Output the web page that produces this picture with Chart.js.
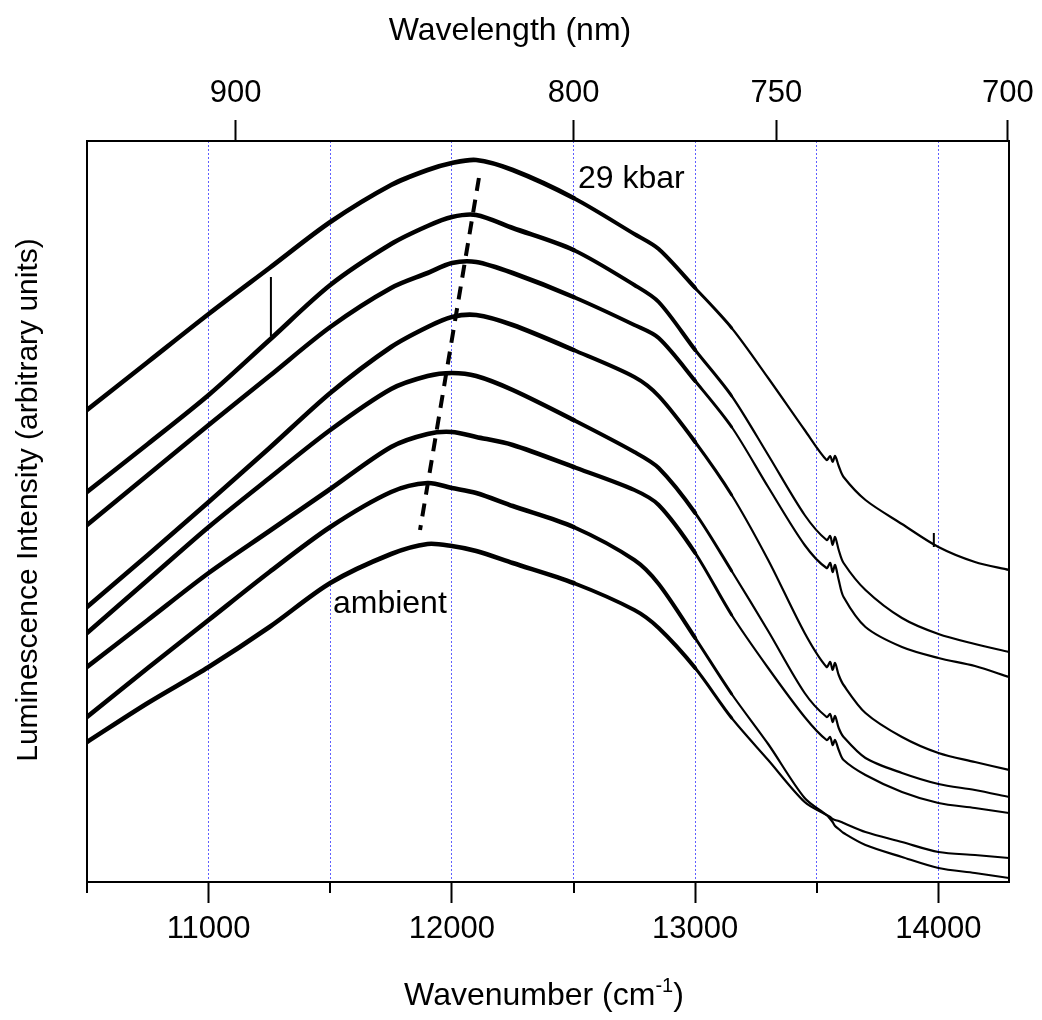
<!DOCTYPE html>
<html>
<head>
<meta charset="utf-8">
<title>Luminescence spectra under pressure</title>
<script src="https://cdn.jsdelivr.net/npm/chart.js"></script>
<style>
  body { margin: 0; background: #fff; }
  canvas { display: block; }
</style>
</head>
<body>
<canvas id="chart" width="1042" height="1020"></canvas>
<script>
'use strict'

// wavenumber sample points (cm-1), shared by every spectrum
const wavenumber = [10500, 10750, 11000, 11250, 11500, 11750, 11900, 12000, 12100, 12250, 12500, 12750,
    12850, 13000, 13150, 13300, 13450, 13540, 13555, 13565, 13575, 13590, 13610, 13700, 13850, 14000,
    14150, 14290]

// intensities (arbitrary units), top spectrum = 29 kbar, bottom = ambient
const spectrum1 = [472, 520, 568, 614, 660, 697, 712, 719, 722, 712, 684, 648, 633, 594, 554, 504, 452, 422,
    426, 420, 426, 416, 405, 382, 358, 335, 320, 312]
const spectrum2 = [390, 438, 487, 542, 597, 638, 656, 665, 667, 654, 632, 597, 580, 532, 486, 427, 367, 342,
    346, 337, 345, 332, 319, 292, 264, 248, 238, 230]
const spectrum3 = [357, 407, 457, 506, 555, 594, 609, 619, 620, 609, 585, 557, 544, 501, 455, 395, 337, 314,
    319, 310, 317, 302, 285, 255, 235, 224, 216, 205]
const spectrum4 = [275, 327, 380, 434, 489, 535, 555, 565, 567, 557, 532, 505, 486, 440, 387, 322, 249, 215,
    220, 212, 219, 207, 197, 169, 145, 129, 120, 112]
const spectrum5 = [249, 302, 355, 404, 452, 493, 506, 509, 506, 492, 462, 430, 414, 369, 311, 251, 189, 165,
    168, 160, 166, 154, 145, 124, 109, 98, 92, 85]
const spectrum6 = [215, 262, 309, 351, 393, 435, 448, 450, 445, 437, 415, 392, 377, 329, 267, 214, 165, 142,
    145, 137, 142, 132, 122, 107, 90, 79, 74, 69]
const spectrum7 = [165, 214, 262, 310, 355, 390, 399, 394, 389, 376, 355, 322, 298, 244, 188, 138, 84, 67,
    63, 60, 56, 53, 49, 37, 25, 14, 9, 4]
const ambient = [140, 179, 215, 255, 299, 328, 338, 336, 331, 319, 299, 272, 254, 214, 164, 122, 80, 67,
    65, 63, 62, 61, 59, 50, 40, 30, 27, 24]

// single-channel spikes (spectrum 2 at 11256, spectrum 1 at 13981)
const spikeWavenumber = [11256, 13981]
const spikeBase = [546, 335]
const spikeTop = [605, 349]

// dashed guide through the band maxima
const peakWavenumber = [12111, 11869]
const peakIntensity = [704, 352]

// axis ticks
const wavelengthTicks = [900, 800, 750, 700]      // nm, top axis
const bottomTicks = [10500, 11000, 11500, 12000, 12500, 13000, 13500, 14000]
const minorTicks = [10500, 11500, 12500, 13500]   // the short ones

const FONT = '"Liberation Sans", Arial, Helvetica, sans-serif'
const GRID = 'rgb(95, 95, 255)'
const NONE = 'rgba(0,0,0,0)'

const spectra = [spectrum1, spectrum2, spectrum3, spectrum4, spectrum5, spectrum6, spectrum7, ambient]

function toPoints(xs, ys) {
    return xs.map((x, i) => ({ x: x, y: ys[i] }))
}

// the noisy low-energy side of each spectrum reads as a heavier line
function noiseWidth(ctx) {
    let x = ctx.p0.parsed.x
    if (x < 12500) return 4.6
    if (x < 12900) return 4
    if (x < 13100) return 3
    return 2.2
}

let datasets = spectra.map(values => ({
    data: toPoints(wavenumber, values),
    borderColor: '#000',
    borderWidth: 2,
    borderJoinStyle: 'round',
    borderCapStyle: 'round',
    pointRadius: 0,
    tension: 0.3,
    segment: { borderWidth: noiseWidth }
}))

spikeWavenumber.forEach((x, i) => {
    datasets.push({
        data: [{ x: x, y: spikeBase[i] }, { x: x, y: spikeTop[i] }],
        borderColor: '#000',
        borderWidth: 2,
        pointRadius: 0
    })
})

datasets.push({
    data: toPoints(peakWavenumber, peakIntensity),
    borderColor: '#000',
    borderWidth: 4,
    borderDash: [13, 9],
    pointRadius: 0
})

// short ticks, texts and titles
const extras = {
    id: 'extras',
    afterDraw(chart) {
        const ctx = chart.ctx
        const x = chart.scales.x
        const y = chart.scales.y
        const area = chart.chartArea
        ctx.save()

        ctx.strokeStyle = '#000'
        ctx.lineWidth = 2
        minorTicks.forEach(v => {
            let px = Math.round(x.getPixelForValue(v))
            ctx.beginPath()
            ctx.moveTo(px, area.bottom)
            ctx.lineTo(px, area.bottom + 11)
            ctx.stroke()
        })

        ctx.fillStyle = '#000'
        ctx.textAlign = 'left'
        ctx.textBaseline = 'alphabetic'
        ctx.font = '32px ' + FONT
        ctx.fillText('29 kbar', x.getPixelForValue(12518), y.getPixelForValue(694))
        ctx.fillText('ambient', x.getPixelForValue(11511), y.getPixelForValue(269))

        // top title
        ctx.font = '32px ' + FONT
        ctx.textAlign = 'center'
        ctx.fillText('Wavelength (nm)', 510, 40)

        // bottom title with superscript
        ctx.textAlign = 'left'
        let a = 'Wavenumber (cm', sup = '-1', b = ')'
        ctx.font = '32px ' + FONT
        let wa = ctx.measureText(a).width
        let wb = ctx.measureText(b).width
        ctx.font = '20px ' + FONT
        let ws = ctx.measureText(sup).width
        let left = 544 - (wa + ws + wb) / 2
        ctx.font = '32px ' + FONT
        ctx.fillText(a, left, 1005)
        ctx.fillText(b, left + wa + ws, 1005)
        ctx.font = '20px ' + FONT
        ctx.fillText(sup, left + wa, 992)

        // left title
        ctx.translate(37, 500)
        ctx.rotate(-Math.PI / 2)
        ctx.textAlign = 'center'
        ctx.font = '30px ' + FONT
        ctx.fillText('Luminescence Intensity (arbitrary units)', 0, 0)

        ctx.restore()
    }
}

const chart = new Chart(document.querySelector('#chart').getContext('2d'), {
    type: 'line',
    data: { datasets: datasets },
    plugins: [extras],
    options: {
        responsive: false,
        animation: false,
        devicePixelRatio: 1,
        layout: { padding: 0 },
        plugins: { legend: { display: false }, tooltip: { enabled: false } },
        scales: {
            x: {
                type: 'linear',
                position: 'bottom',
                min: 10500,
                max: 14290,
                afterFit: scale => { scale.height = 138 },
                afterBuildTicks: scale => {
                    scale.ticks = bottomTicks.map(v => ({ value: v }))
                },
                ticks: {
                    autoSkip: false,
                    maxRotation: 0,
                    padding: 8,
                    color: '#000',
                    font: { family: FONT, size: 31 },
                    callback: v => v % 1000 === 0 ? String(v) : ''
                },
                grid: {
                    color: c => (c.tick && c.tick.value > 10500) ? GRID : NONE,
                    lineWidth: 1,
                    tickLength: 21,
                    tickWidth: 2,
                    tickColor: c => (c.tick && c.tick.value % 1000 === 0) ? '#000' : NONE
                },
                border: { display: true, color: '#000', width: 2, dash: [2, 2] }
            },
            x2: {
                type: 'linear',
                position: 'top',
                min: 10500,
                max: 14290,
                afterFit: scale => { scale.height = 141 },
                afterBuildTicks: scale => {
                    scale.ticks = wavelengthTicks.map(nm => ({ value: 1e7 / nm }))
                },
                ticks: {
                    autoSkip: false,
                    maxRotation: 0,
                    padding: 8,
                    color: '#000',
                    font: { family: FONT, size: 31 },
                    callback: v => String(Math.round(1e7 / v))
                },
                grid: {
                    drawOnChartArea: false,
                    color: '#000',
                    tickLength: 21,
                    tickWidth: 2,
                    tickColor: '#000'
                },
                border: { display: true, color: '#000', width: 2 }
            },
            y: {
                position: 'left',
                min: 0,
                max: 741,
                afterFit: scale => { scale.width = 87 },
                ticks: { display: false },
                grid: { display: false },
                border: { display: true, color: '#000', width: 2 }
            },
            y2: {
                position: 'right',
                min: 0,
                max: 1,
                afterFit: scale => { scale.width = 33 },
                ticks: { display: false },
                grid: { display: false },
                border: { display: true, color: '#000', width: 2 }
            }
        }
    }
})
</script>
</body>
</html>
